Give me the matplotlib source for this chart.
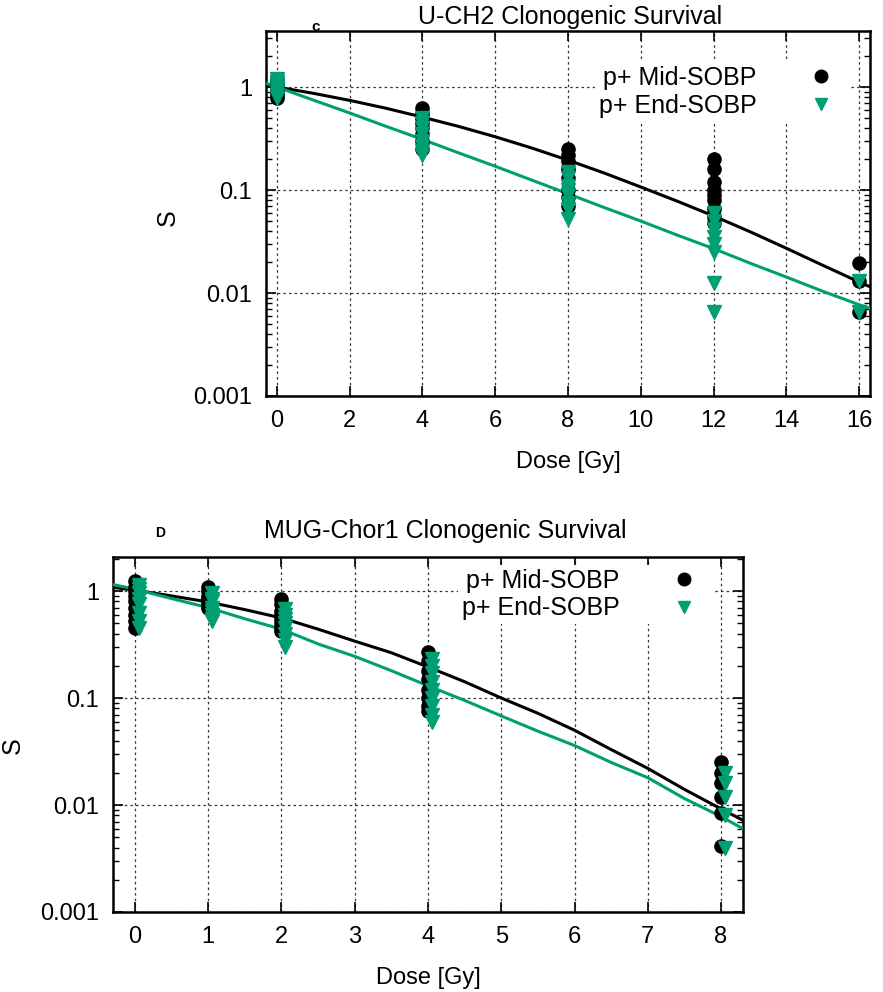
import numpy as np
import matplotlib
matplotlib.use("Agg")
import matplotlib.pyplot as plt
from matplotlib.ticker import LogLocator, FixedLocator, NullFormatter, FixedFormatter

plt.rcParams['font.family'] = ['Liberation Sans', 'DejaVu Sans']

green = '#009E73'

# ---- panel C: U-CH2 ----
c_mid_dose = [0]*8 + [4]*8 + [8]*8 + [12]*9 + [16]*3
c_mid_s = [1.2, 1.12, 1.05, 1.0, 0.95, 0.9, 0.84, 0.78,
           0.62, 0.55, 0.5, 0.45, 0.4, 0.35, 0.3, 0.25,
           0.25, 0.22, 0.19, 0.16, 0.13, 0.1, 0.085, 0.07,
           0.2, 0.16, 0.12, 0.1, 0.09, 0.08, 0.065, 0.055, 0.048,
           0.0195, 0.013, 0.0065]
c_end_dose = [0]*8 + [4]*8 + [8]*8 + [12]*8 + [16]*2
c_end_s = [1.2, 1.12, 1.05, 1.0, 0.95, 0.9, 0.84, 0.78,
           0.5, 0.45, 0.4, 0.35, 0.3, 0.27, 0.24, 0.22,
           0.15, 0.13, 0.11, 0.1, 0.09, 0.075, 0.065, 0.052,
           0.06, 0.05, 0.042, 0.035, 0.03, 0.025, 0.0125, 0.0065,
           0.013, 0.0065]
# fitted curves
c_fit_dose = [-0.3, 0, 1, 2, 3, 4, 5, 6, 7, 8, 9, 10, 11, 12, 13, 14, 15, 16, 16.3]
c_fit_mid = [1.04, 1.0, 0.869, 0.742, 0.622, 0.51, 0.414, 0.329, 0.256, 0.195, 0.146,
             0.107, 0.078, 0.056, 0.0394, 0.0272, 0.0186, 0.0128, 0.0115]
c_fit_end = [1.09, 1.0, 0.747, 0.56, 0.415, 0.31, 0.229, 0.17, 0.125, 0.092, 0.0675,
             0.05, 0.0365, 0.027, 0.0195, 0.0143, 0.0104, 0.0077, 0.0071]

# ---- panel D: MUG-Chor1 ----
d_mid_dose = [0]*9 + [1]*7 + [2]*8 + [4]*8 + [8]*6
d_mid_s = [1.25, 1.1, 1.0, 0.9, 0.8, 0.7, 0.6, 0.52, 0.45,
           1.1, 1.0, 0.9, 0.85, 0.8, 0.75, 0.7,
           0.85, 0.75, 0.65, 0.6, 0.55, 0.5, 0.45, 0.42,
           0.27, 0.22, 0.18, 0.15, 0.12, 0.1, 0.085, 0.075,
           0.025, 0.02, 0.016, 0.012, 0.0085, 0.0041]
d_end_dose = [0]*8 + [1]*8 + [2]*8 + [4]*9 + [8]*5
d_end_s = [1.15, 1.05, 0.95, 0.85, 0.75, 0.62, 0.52, 0.45,
           0.95, 0.85, 0.8, 0.7, 0.65, 0.6, 0.55, 0.52,
           0.68, 0.6, 0.55, 0.5, 0.45, 0.4, 0.35, 0.3,
           0.23, 0.2, 0.17, 0.14, 0.12, 0.1, 0.085, 0.07, 0.06,
           0.02, 0.016, 0.012, 0.008, 0.004]
d_fit_dose = [-0.3, 0, 0.5, 1, 1.5, 2, 2.5, 3, 3.5, 4, 4.5, 5, 5.5, 6, 6.5, 7, 7.5, 8, 8.3]
d_fit_mid = [1.08, 1.02, 0.9, 0.79, 0.67, 0.56, 0.44, 0.34, 0.265, 0.195, 0.142,
             0.1, 0.072, 0.05, 0.033, 0.022, 0.014, 0.0092, 0.0072]
d_fit_end = [1.15, 1.04, 0.85, 0.7, 0.55, 0.44, 0.32, 0.245, 0.18, 0.13, 0.095,
             0.068, 0.049, 0.036, 0.025, 0.018, 0.0115, 0.0078, 0.006]

W, H = 883, 992
fig = plt.figure(figsize=(W/100, H/100), dpi=100)


def style(ax, xmax_tick, xstep, ymax, xlim):
    ax.set_yscale('log')
    ax.set_ylim(0.001, ymax)
    ax.set_xlim(*xlim)
    ax.set_xticks(np.arange(0, xmax_tick + 0.1, xstep))
    ax.yaxis.set_major_locator(FixedLocator([0.001, 0.01, 0.1, 1]))
    ax.yaxis.set_major_formatter(FixedFormatter(['0.001', '0.01', '0.1', '1']))
    ax.yaxis.set_minor_locator(LogLocator(base=10, subs=np.arange(2, 10)))
    ax.yaxis.set_minor_formatter(NullFormatter())
    ax.tick_params(which='major', direction='in', length=7, width=1.2,
                   top=True, right=True, labelsize=17, pad=10)
    ax.tick_params(which='minor', direction='in', length=4, width=1.0,
                   top=False, right=True)
    ax.grid(True, which='major', color='#333333', linestyle=(0, (2, 2.5)), linewidth=0.9)
    for s in ax.spines.values():
        s.set_linewidth(1.8)
    ax.set_axisbelow(True)


def draw(ax, mid_d, mid_s, end_d, end_s, fd, fmid, fend, dx):
    ax.plot(fd, fmid, color='black', lw=2.2, zorder=3)
    ax.plot(fd, fend, color=green, lw=2.2, zorder=3)
    ax.plot(mid_d, mid_s, 'o', color='black', ms=9.5, label='p+ Mid-SOBP', zorder=4)
    ax.plot(np.array(end_d) + dx, end_s, 'v', color=green, ms=9.5, label='p+ End-SOBP', zorder=5)


def legend(ax, anchor):
    ax.legend(loc='upper right', bbox_to_anchor=anchor, markerfirst=False,
              frameon=True, fancybox=False, edgecolor='none', framealpha=1,
              prop={'size': 18}, handlelength=2.0, handletextpad=1.6,
              labelspacing=0.15, borderpad=0.15, borderaxespad=0, markerscale=0.95)


# top panel
ax1 = fig.add_axes([266/W, 1 - 396/H, 604/W, 365/H])
draw(ax1, c_mid_dose, c_mid_s, c_end_dose, c_end_s, c_fit_dose, c_fit_mid, c_fit_end, 0)
style(ax1, 16, 2, 3.5, (-0.3, 16.3))
ax1.set_xlabel('Dose [Gy]', fontsize=17, labelpad=14)
ax1.set_ylabel('S', fontsize=18)
ax1.yaxis.set_label_coords((180 - 266)/604, 0.49)
legend(ax1, ((850 - 266)/604, (396 - 62)/365))
fig.text(570/W, 1 - 17/H, 'U-CH2 Clonogenic Survival', ha='center', va='center', fontsize=18)
fig.text(316/W, 1 - 27/H, 'c', ha='center', va='center', fontsize=11, fontweight='bold')

# bottom panel
ax2 = fig.add_axes([113/W, 1 - 912/H, 630/W, 355/H])
draw(ax2, d_mid_dose, d_mid_s, d_end_dose, d_end_s, d_fit_dose, d_fit_mid, d_fit_end, 0.05)
style(ax2, 8, 1, 2.08, (-0.3, 8.3))
ax2.set_xlabel('Dose [Gy]', fontsize=17, labelpad=14)
ax2.set_ylabel('S', fontsize=18)
ax2.yaxis.set_label_coords((25 - 113)/630, 0.47)
legend(ax2, ((713 - 113)/630, (912 - 565)/355))
fig.text(445/W, 1 - 531/H, 'MUG-Chor1 Clonogenic Survival', ha='center', va='center', fontsize=18)
fig.text(160/W, 1 - 533/H, 'D', ha='center', va='center', fontsize=10, fontweight='bold')

fig.savefig('out.png', dpi=100)
